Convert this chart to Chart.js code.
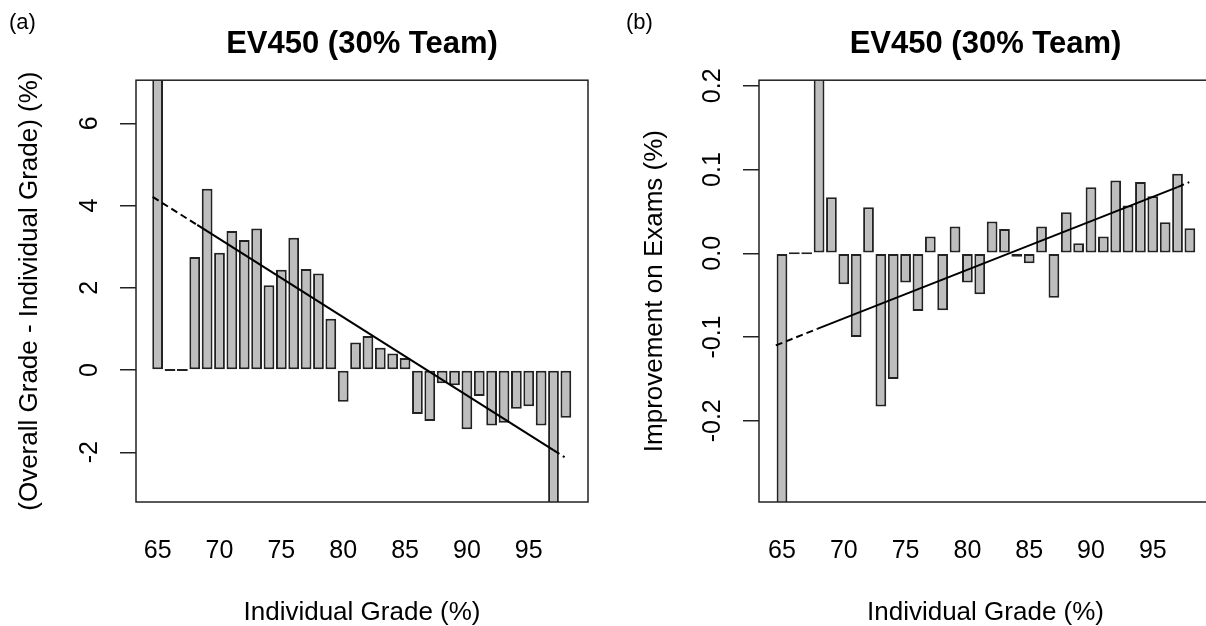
<!DOCTYPE html>
<html>
<head>
<meta charset="utf-8">
<script src="https://cdn.jsdelivr.net/npm/chart.js@4.4.0/dist/chart.umd.min.js"></script>
<style>
  html, body { margin: 0; padding: 0; background: #fff; overflow: hidden; width: 1206px; height: 626px; }
  .panel { position: absolute; top: 0; height: 626px; }
  #wrapA { left: 0; width: 603px; }
  #wrapB { left: 603px; width: 620px; }
</style>
</head>
<body>
<div id="wrapA" class="panel"><canvas id="chartA" width="603" height="626"></canvas></div>
<div id="wrapB" class="panel"><canvas id="chartB" width="620" height="626"></canvas></div>
<script>
// individual grades (one bar each)
const grades = [65, 66, 67, 68, 69, 70, 71, 72, 73, 74, 75, 76, 77, 78, 79, 80, 81,
                82, 83, 84, 85, 86, 87, 88, 89, 90, 91, 92, 93, 94, 95, 96, 97, 98];
// (a) overall - individual grade, %
const diffA = [7.6, 0, 0, 2.75, 4.41, 2.85, 3.38, 3.16, 3.44, 2.06, 2.44, 3.22, 2.46, 2.35, 1.25, -0.77, 0.67,
               0.83, 0.54, 0.40, 0.29, -1.07, -1.24, -0.32, -0.37, -1.44, -0.63, -1.35, -1.28, -0.94, -0.88, -1.35, -3.6, -1.16];
// (b) improvement on exams, %
const improveB = [-0.35, 0, 0, 0.25, 0.067, -0.037, -0.100, 0.055, -0.183, -0.150, -0.035, -0.069, 0.020, -0.068, 0.032, -0.035, -0.049,
                  0.038, 0.029, -0.004, -0.012, 0.032, -0.053, 0.049, 0.012, 0.079, 0.020, 0.087, 0.057, 0.085, 0.068, 0.037, 0.095, 0.030];
// fitted trend lines
const fitXA = [64.6, 68.2, 97.0, 97.9];
const fitYA = [4.21, 3.53, -1.95, -2.12];
const fitXB = [64.5, 67.9, 97.0, 97.95];
const fitYB = [-0.110, -0.090, 0.079, 0.085];
// ticks
const xTicks = [65, 70, 75, 80, 85, 90, 95];
const yTicksA = [-2, 0, 2, 4, 6];
const yTicksB = [-0.2, -0.1, 0, 0.1, 0.2];

const FONT = '"Liberation Sans", Arial, sans-serif';

// box around the plot region + panel letter, R style
const boxPlugin = {
  id: 'rbox',
  afterDatasetsDraw(chart, args, o) {
    const { ctx, chartArea: a } = chart;
    ctx.save();
    ctx.strokeStyle = '#222';
    ctx.lineWidth = 1.5;
    ctx.strokeRect(a.left, a.top, a.right - a.left, a.bottom - a.top);
    ctx.fillStyle = '#000';
    ctx.font = '22px ' + FONT;
    ctx.textBaseline = 'middle';
    ctx.textAlign = 'left';
    ctx.fillText(o.label, o.lx, 23);
    ctx.restore();
  }
};

function makePanel(id, p) {
  return new Chart(document.getElementById(id), {
    type: 'bar',
    data: {
      datasets: [
        { type: 'line', data: p.fitX.map((x, i) => ({ x, y: p.fitY[i] })),
          borderColor: '#000', borderWidth: 2, pointRadius: 0, order: 0,
          segment: { borderDash: c => c.p0DataIndex === 1 ? undefined : [7, 4] } },
        { type: 'bar', data: grades.map((g, i) => ({ x: g, y: p.values[i] })),
          backgroundColor: '#bebebe', borderColor: '#222', borderWidth: 2, borderSkipped: false,
          barPercentage: 0.87, categoryPercentage: 1, minBarLength: 2, order: 1 }
      ]
    },
    options: {
      responsive: false, animation: false,
      layout: { padding: { top: 0, left: 0, right: p.padRight, bottom: 0 } },
      plugins: {
        legend: { display: false }, tooltip: { enabled: false },
        title: { display: true, text: 'EV450 (30% Team)', fullSize: false, color: '#000',
                 font: { family: FONT, size: 31, weight: 'bold', lineHeight: 1.2 }, padding: { top: 26, bottom: 17 } },
        rbox: { label: p.label, lx: p.labelX }
      },
      scales: {
        x: { type: 'linear', min: p.xMin, max: p.xMax, offset: false,
             afterBuildTicks: s => { s.ticks = xTicks.map(v => ({ value: v })); },
             afterFit: s => { s.height = 124; },
             grid: { display: false, drawTicks: false }, border: { display: false },
             ticks: { font: { family: FONT, size: 25 }, color: '#000', padding: 34, maxRotation: 0, autoSkip: false },
             title: { display: true, text: 'Individual Grade (%)', color: '#000',
                      font: { family: FONT, size: 26, lineHeight: 1 }, padding: { top: 0, bottom: 0 } } },
        y: { type: 'linear', min: p.yMin, max: p.yMax,
             afterBuildTicks: s => { s.ticks = p.yTicks.map(v => ({ value: v })); },
             afterFit: s => { s.width = p.yWidth; },
             grid: { drawOnChartArea: false, drawTicks: true, tickLength: 16, color: '#222', lineWidth: 1.5 },
             border: { display: false },
             ticks: { font: { family: FONT, size: 25 }, color: '#000', padding: p.tickPad, minRotation: 90, maxRotation: 90,
                      crossAlign: 'center', autoSkip: false, callback: p.fmt },
             title: { display: true, text: p.yTitle, color: '#000',
                      font: { family: FONT, size: 26, lineHeight: 1 }, padding: { top: p.titlePad, bottom: 0 } } }
      }
    },
    plugins: [boxPlugin]
  });
}

makePanel('chartA', {
  values: diffA, fitX: fitXA, fitY: fitYA, yTicks: yTicksA,
  xMin: 63.25, xMax: 99.79, yMin: -3.21, yMax: 7.05,
  yWidth: 136, padRight: 15, tickPad: 19, titlePad: 17,
  yTitle: '(Overall Grade - Individual Grade) (%)', fmt: v => String(v),
  label: '(a)', labelX: 9
});

makePanel('chartB', {
  values: improveB, fitX: fitXB, fitY: fitYB, yTicks: yTicksB,
  xMin: 63.14, xMax: 99.79, yMin: -0.297, yMax: 0.2067,
  yWidth: 156, padRight: 11, tickPad: 8.5, titlePad: 39,
  yTitle: 'Improvement on Exams (%)', fmt: v => v.toFixed(1),
  label: '(b)', labelX: 23
});
</script>
</body>
</html>
